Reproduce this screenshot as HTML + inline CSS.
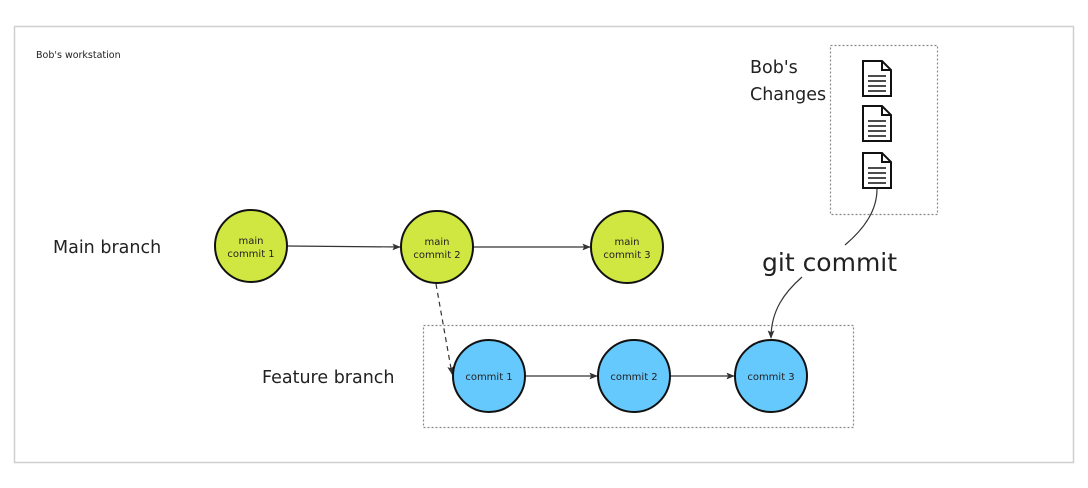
<!DOCTYPE html>
<html><head><meta charset="utf-8"><style>
html,body{margin:0;padding:0;background:#fff;}
svg text{font-family:"DejaVu Sans","Liberation Sans",sans-serif;fill:#222;}
</style></head><body>
<svg width="1088" height="483" viewBox="0 0 1088 483" xmlns="http://www.w3.org/2000/svg">
<defs>
<marker id="ah" viewBox="0 0 10 10" refX="9" refY="5" markerWidth="7" markerHeight="7" orient="auto-start-reverse"><path d="M0,1 L10,5 L0,9 L2,5 z" fill="#333"/></marker>
</defs>
<rect x="14.5" y="26.5" width="1059" height="436" fill="#fff" stroke="#cfcfcf" stroke-width="1.5"/>
<text x="36" y="58" font-size="9.5">Bob's workstation</text>
<text x="53" y="253" font-size="17.5">Main branch</text>
<text x="262" y="383" font-size="17.5">Feature branch</text>
<rect x="423.5" y="325.5" width="430" height="102" fill="none" stroke="#888" stroke-width="1.2" stroke-dasharray="2,2"/>
<rect x="830.5" y="45.5" width="107" height="169" fill="none" stroke="#888" stroke-width="1.2" stroke-dasharray="2,2"/>
<text x="750" y="73" font-size="17.5">Bob's</text>
<text x="750" y="100" font-size="17.5">Changes</text>
<g fill="#fff" stroke="#111" stroke-width="2">
<path d="M863,61 H882 L891,70 V96 H863 Z M882,61 V70 H891"/>
<path d="M863,106 H882 L891,115 V141 H863 Z M882,106 V115 H891"/>
<path d="M863,153 H882 L891,162 V188 H863 Z M882,153 V162 H891"/>
</g>
<g stroke="#111" stroke-width="1.6">
<line x1="868" y1="76" x2="886" y2="76"/><line x1="868" y1="81" x2="886" y2="81"/><line x1="868" y1="86" x2="886" y2="86"/><line x1="868" y1="91" x2="886" y2="91"/>
<line x1="868" y1="121" x2="886" y2="121"/><line x1="868" y1="126" x2="886" y2="126"/><line x1="868" y1="131" x2="886" y2="131"/><line x1="868" y1="136" x2="886" y2="136"/>
<line x1="868" y1="168" x2="886" y2="168"/><line x1="868" y1="173" x2="886" y2="173"/><line x1="868" y1="178" x2="886" y2="178"/><line x1="868" y1="183" x2="886" y2="183"/>
</g>
<path d="M877,189 C877,210 865,228 845,245" fill="none" stroke="#333" stroke-width="1.2"/>
<text x="762" y="271" font-size="25">git commit</text>
<path d="M802,277 C785,292 771,310 771,338" fill="none" stroke="#333" stroke-width="1.2" marker-end="url(#ah)"/>
<line x1="287" y1="246" x2="400" y2="247" stroke="#333" stroke-width="1.2" marker-end="url(#ah)"/>
<line x1="473" y1="247" x2="590" y2="247" stroke="#333" stroke-width="1.2" marker-end="url(#ah)"/>
<line x1="436" y1="284" x2="452" y2="374" stroke="#333" stroke-width="1.2" stroke-dasharray="5,4" marker-end="url(#ah)"/>
<line x1="525" y1="376" x2="597" y2="376" stroke="#333" stroke-width="1.2" marker-end="url(#ah)"/>
<line x1="670" y1="376" x2="734" y2="376" stroke="#333" stroke-width="1.2" marker-end="url(#ah)"/>
<g stroke="#111" stroke-width="2">
<circle cx="251" cy="246" r="36" fill="#d1e741"/>
<circle cx="437" cy="247" r="36" fill="#d1e741"/>
<circle cx="627" cy="247" r="36" fill="#d1e741"/>
<circle cx="489" cy="376" r="36" fill="#66c9fd"/>
<circle cx="634" cy="376" r="36" fill="#66c9fd"/>
<circle cx="771" cy="376" r="36" fill="#66c9fd"/>
</g>
<g font-size="10" text-anchor="middle">
<text x="251" y="244">main</text><text x="251" y="257">commit 1</text>
<text x="437" y="245">main</text><text x="437" y="258">commit 2</text>
<text x="627" y="245">main</text><text x="627" y="258">commit 3</text>
<text x="489" y="380">commit 1</text>
<text x="634" y="380">commit 2</text>
<text x="771" y="380">commit 3</text>
</g>
</svg>
</body></html>
